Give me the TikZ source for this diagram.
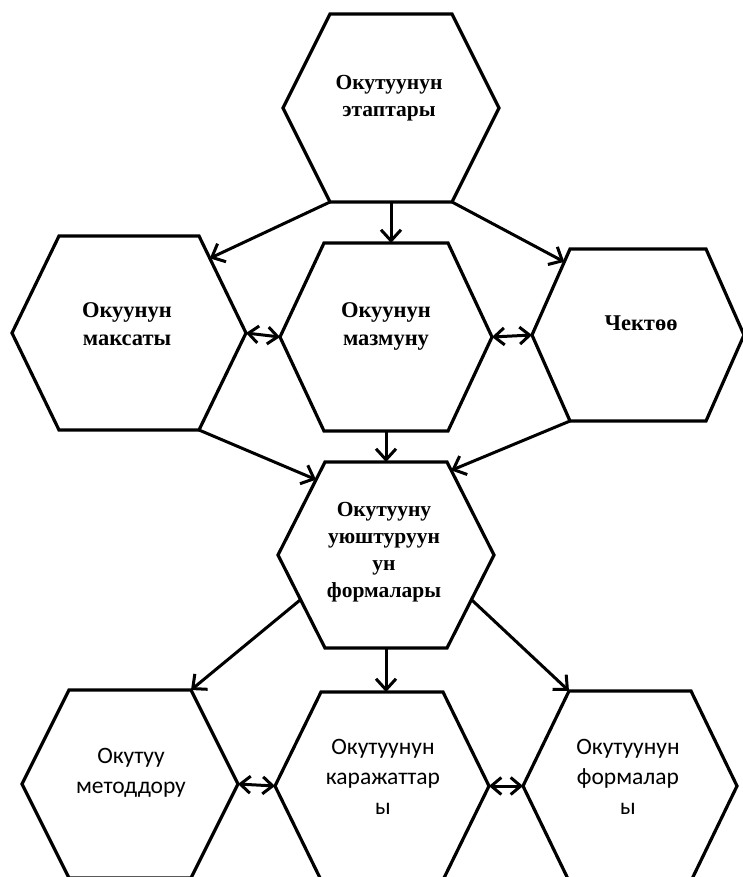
\documentclass[tikz,border=0pt]{standalone}
\usepackage{fontspec}
\newfontfamily\serfont{Liberation Serif}
\newfontfamily\calfont{Carlito}
\usetikzlibrary{arrows.meta,calc}
\tikzset{
  hexline/.style={draw=black, line width=3.2pt, line join=miter},
  conn/.style={draw=black, line width=3pt, -{Straight Barb[length=11pt,width=20pt,line width=3pt]}},
  dconn/.style={draw=black, line width=3pt, {Straight Barb[length=10pt,width=17pt,line width=3pt]}-{Straight Barb[length=10pt,width=17pt,line width=3pt]}},
  sertextA/.style={align=center, inner sep=0pt, font=\serfont\bfseries\fontsize{21.5}{27}\selectfont},
  sertextB/.style={align=center, inner sep=0pt, font=\serfont\bfseries\fontsize{22.5}{28}\selectfont},
  caltext/.style={align=center, inner sep=0pt, font=\calfont\fontsize{23.5}{30}\selectfont},
}
\newcommand\hexshape[6]{%
  \coordinate (#1) at (#2,#3);
  \coordinate (#1-l) at ({#2-#4},#3);
  \coordinate (#1-r) at ({#2+#4},#3);
  \coordinate (#1-tl) at ({#2-#5},{#3-#6});
  \coordinate (#1-tr) at ({#2+#5},{#3-#6});
  \coordinate (#1-bl) at ({#2-#5},{#3+#6});
  \coordinate (#1-br) at ({#2+#5},{#3+#6});
  \coordinate (#1-t) at (#2,{#3-#6});
  \coordinate (#1-b) at (#2,{#3+#6});
  \draw[hexline] (#1-tl) -- (#1-tr) -- (#1-r) -- (#1-br) -- (#1-bl) -- (#1-l) -- cycle;
}
\begin{document}
\begin{tikzpicture}[x=1pt,y=-1pt]
\useasboundingbox[fill=white] (0,0) rectangle (742,877);
% hexagons
\hexshape{top}{391}{108}{108}{61}{94}
\hexshape{maks}{129}{333}{117}{70}{97}
\hexshape{mazm}{386}{337}{106}{62}{94}
\hexshape{chek}{638}{335}{106}{68}{86}
\hexshape{form}{386}{555}{108}{61}{93}
\hexshape{meto}{130}{784}{108}{61}{94}
\hexshape{kara}{382}{786}{107}{61}{94}
\hexshape{fortwo}{630}{786}{107}{61}{95}
% texts
\node[sertextA] (ttop) at (389,98) {Окутуунун\\этаптары};
\node[sertextB] (tmaks) at (127,324) {Окуунун\\максаты};
\node[sertextB] (tmazm) at (386,326) {Окуунун\\мазмуну};
\node[sertextB] (tchek) at (641,323) {Чектөө};
\node[sertextA] (tform) at (384,552) {Окутууну\\уюштуруун\\ун\\формалары};
\node[caltext] (tmeto) at (131,773) {Окутуу\\методдору};
\node[caltext] (tkara) at (383,777) {Окутуунун\\каражаттар\\ы};
\node[caltext] (tfortwo) at (628,777) {Окутуунун\\формалар\\ы};
% connectors
\draw[conn] (top-bl) -- ($(maks-tr)!0.23!(maks-r)$);
\draw[conn] (top-b) -- (top-b |- mazm-t);
\draw[conn] (top-br) -- ($(chek-tl)!0.15!(chek-l)$);
\draw[dconn] (maks-r) -- (mazm-l);
\draw[dconn] (mazm-r) -- (chek-l);
\draw[conn] (maks-br) -- ($(form-tl)!0.19!(form-l)$);
\draw[conn] (mazm-b) -- (mazm-b |- form-t);
\draw[conn] (chek-bl) -- ($(form-tr)!0.09!(form-r)$);
\draw[conn] ($(form-l)!0.48!(form-bl)$) -- (meto-tr);
\draw[conn] (form-b) -- (form-b |- kara-t);
\draw[conn] ($(form-r)!0.48!(form-br)$) -- (fortwo-tl);
\draw[dconn] (meto-r) -- (kara-l);
\draw[dconn] (kara-r) -- (fortwo-l);
\end{tikzpicture}
\end{document}
